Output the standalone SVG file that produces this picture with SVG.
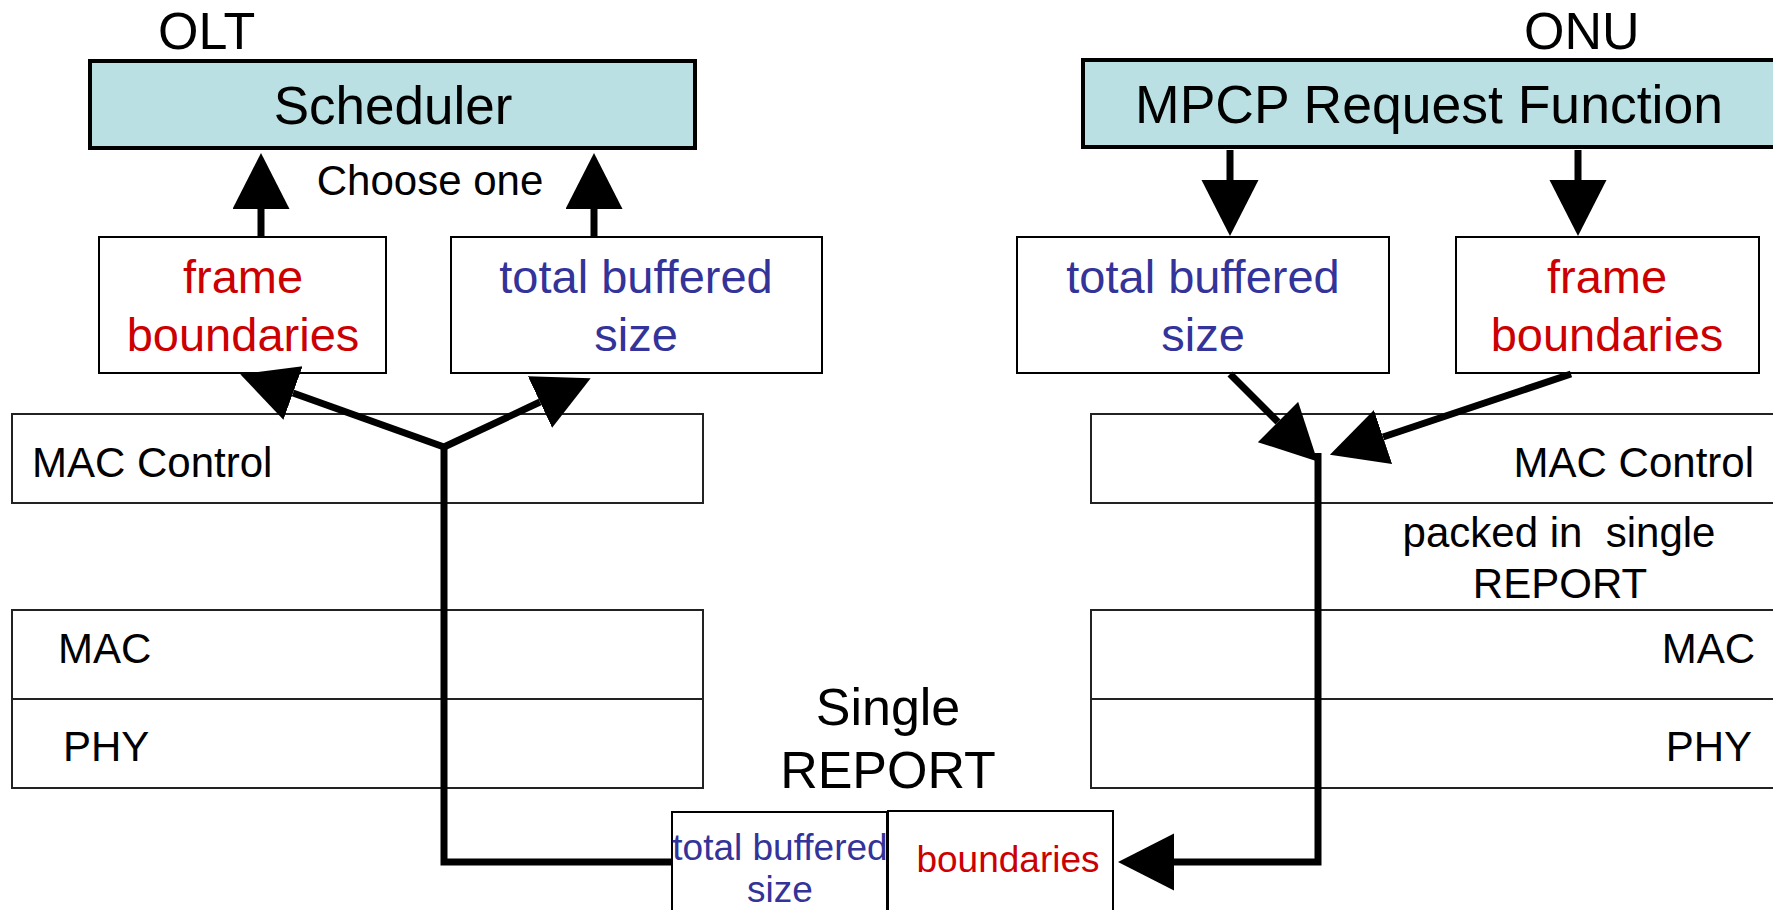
<svg xmlns="http://www.w3.org/2000/svg" width="1773" height="910" viewBox="0 0 1773 910">
<defs>
<style>
text{font-family:"Liberation Sans",Arial,sans-serif;fill:#000}
.big{font-size:52px}
.mid{font-size:47px}
.lbl{font-size:42px}
.sm{font-size:37px}
.red{fill:#cc0000}
.blue{fill:#333399}
.head{fill:#bbe0e3;stroke:#000;stroke-width:4}
.box{fill:#fff;stroke:#000;stroke-width:2}
.layer{fill:#fff;stroke:#222;stroke-width:2}
.conn{fill:none;stroke:#000;stroke-width:7}
</style>
<marker id="ah" markerUnits="userSpaceOnUse" orient="auto" markerWidth="58" markerHeight="60" refX="0" refY="28.5" viewBox="0 0 58 60">
<path d="M0,0 L56,28.5 L0,57 z" fill="#000"/>
</marker>
</defs>
<rect width="1773" height="910" fill="#fff"/>

<g id="olt-label"><text class="big" x="158" y="49">OLT</text></g>
<g id="onu-label"><text class="big" x="1524" y="49">ONU</text></g>

<g id="scheduler">
<rect class="head" x="90" y="61" width="605" height="87"/>
<text class="big" x="393" y="124" text-anchor="middle" style="font-size:53px">Scheduler</text>
</g>
<g id="choose-one"><text class="lbl" x="430" y="195" text-anchor="middle">Choose one</text></g>

<g id="mpcp">
<rect class="head" x="1083" y="60" width="710" height="87"/>
<text class="big" x="1429" y="123" text-anchor="middle" style="font-size:53.5px">MPCP Request Function</text>
</g>

<g id="olt-frame">
<rect class="box" x="99" y="237" width="287" height="136"/>
<text class="mid red" x="243" y="293" text-anchor="middle">frame</text>
<text class="mid red" x="243" y="351" text-anchor="middle">boundaries</text>
</g>
<g id="olt-total">
<rect class="box" x="451" y="237" width="371" height="136"/>
<text class="mid blue" x="636" y="293" text-anchor="middle">total buffered</text>
<text class="mid blue" x="636" y="351" text-anchor="middle">size</text>
</g>

<g id="onu-total">
<rect class="box" x="1017" y="237" width="372" height="136"/>
<text class="mid blue" x="1203" y="293" text-anchor="middle">total buffered</text>
<text class="mid blue" x="1203" y="351" text-anchor="middle">size</text>
</g>
<g id="onu-frame">
<rect class="box" x="1456" y="237" width="303" height="136"/>
<text class="mid red" x="1607" y="293" text-anchor="middle">frame</text>
<text class="mid red" x="1607" y="351" text-anchor="middle">boundaries</text>
</g>

<g id="olt-mac-control">
<rect class="layer" x="12" y="414" width="691" height="89"/>
<text class="lbl" x="32" y="477">MAC Control</text>
</g>
<g id="olt-mac">
<rect class="layer" x="12" y="610" width="691" height="89"/>
<text class="lbl" x="58" y="663">MAC</text>
</g>
<g id="olt-phy">
<rect class="layer" x="12" y="699" width="691" height="89"/>
<text class="lbl" x="63" y="761">PHY</text>
</g>

<g id="onu-mac-control">
<rect class="layer" x="1091" y="414" width="700" height="89"/>
<text class="lbl" x="1754" y="477" text-anchor="end">MAC Control</text>
</g>
<g id="packed-label">
<text class="lbl" x="1559" y="547" text-anchor="middle" xml:space="preserve">packed in  single</text>
<text class="lbl" x="1560" y="598" text-anchor="middle">REPORT</text>
</g>
<g id="onu-mac">
<rect class="layer" x="1091" y="610" width="700" height="89"/>
<text class="lbl" x="1755" y="663" text-anchor="end">MAC</text>
</g>
<g id="onu-phy">
<rect class="layer" x="1091" y="699" width="700" height="89"/>
<text class="lbl" x="1752" y="761" text-anchor="end">PHY</text>
</g>

<g id="single-report-label">
<text class="big" x="888" y="725" text-anchor="middle">Single</text>
<text class="big" x="888" y="788" text-anchor="middle">REPORT</text>
</g>

<g id="report-total">
<rect class="box" x="672" y="812" width="215" height="110"/>
<text class="sm blue" x="780" y="860" text-anchor="middle">total buffered</text>
<text class="sm blue" x="780" y="902" text-anchor="middle">size</text>
</g>
<g id="report-boundaries">
<rect class="box" x="888" y="811" width="225" height="110"/>
<text class="sm red" x="1008" y="872" text-anchor="middle">boundaries</text>
</g>

<g id="connectors">
<line class="conn" x1="261" y1="237" x2="261" y2="209" marker-end="url(#ah)"/>
<line class="conn" x1="594" y1="237" x2="594" y2="209" marker-end="url(#ah)"/>
<line class="conn" x1="1230" y1="150" x2="1230" y2="180" marker-end="url(#ah)"/>
<line class="conn" x1="1578" y1="150" x2="1578" y2="180" marker-end="url(#ah)"/>
<polyline class="conn" points="672,862 444,862 444,447"/>
<line class="conn" x1="444" y1="447" x2="293" y2="393" marker-end="url(#ah)"/>
<line class="conn" x1="444" y1="447" x2="540" y2="402" marker-end="url(#ah)"/>
<line class="conn" x1="1230" y1="374" x2="1278" y2="422" marker-end="url(#ah)"/>
<line class="conn" x1="1571" y1="374" x2="1383" y2="437" marker-end="url(#ah)"/>
<polyline class="conn" points="1318,453 1318,862 1174,862" marker-end="url(#ah)"/>
</g>
</svg>
